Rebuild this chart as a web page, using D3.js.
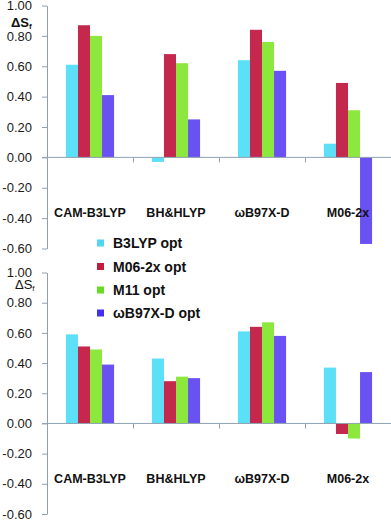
<!DOCTYPE html>
<html>
<head>
<meta charset="utf-8">
<script src="https://cdn.jsdelivr.net/npm/d3@7"></script>
<style>
html,body{margin:0;padding:0;background:#fff;}
svg{display:block;font-family:"Liberation Sans",Arial,sans-serif;}
</style>
</head>
<body>
<svg id="chart" width="391" height="521"></svg>
<script>
const categories = ["CAM-B3LYP", "BH&HLYP", "ωB97X-D", "M06-2x"];
const seriesNames = ["B3LYP opt", "M06-2x opt", "M11 opt", "ωB97X-D opt"];
const yTicks = [1.0, 0.8, 0.6, 0.4, 0.2, 0.0, -0.2, -0.4, -0.6];
// top panel values (per series, per category)
const topB3LYP = [0.61, -0.03, 0.64, 0.09];
const topM062x = [0.87, 0.68, 0.84, 0.49];
const topM11 = [0.80, 0.62, 0.76, 0.31];
const topWB97XD = [0.41, 0.25, 0.57, -0.57];
// bottom panel values
const botB3LYP = [0.59, 0.43, 0.61, 0.37];
const botM062x = [0.51, 0.28, 0.64, -0.07];
const botM11 = [0.49, 0.31, 0.67, -0.10];
const botWB97XD = [0.39, 0.30, 0.58, 0.34];

const barColors = ["#5ce0f8", "#c4284d", "#8ce83c", "#6a52f2"];
const legendColors = ["#4fd6f6", "#c01c3c", "#66dd22", "#4630f0"];
const axisColor = "#8fa1b0";

const svg = d3.select("#chart");

function panel(values, yTop, yBottom, lbl) {
  const g = svg.append("g");
  const y = d3.scaleLinear().domain([-0.6, 1.0]).range([yBottom, yTop]);
  const x0 = d3.scaleBand().domain(categories).range([47, 391])
    .paddingInner(0.44).paddingOuter(0.22);
  const x1 = d3.scaleBand().domain(seriesNames).range([0, x0.bandwidth()]);

  // bars
  categories.forEach((c, ci) => {
    seriesNames.forEach((s, si) => {
      const v = values[si][ci];
      g.append("rect")
        .attr("x", x0(c) + x1(s))
        .attr("width", x1.bandwidth())
        .attr("y", y(Math.max(0, v)))
        .attr("height", Math.abs(y(v) - y(0)))
        .attr("fill", barColors[si]);
    });
  });

  // y axis
  const ya = d3.axisLeft(y).tickValues(yTicks).tickSizeInner(5).tickSizeOuter(0)
    .tickPadding(10).tickFormat(d => d.toFixed(2));
  const yg = g.append("g").attr("transform", "translate(47,0)").call(ya);
  yg.select(".domain").attr("stroke", axisColor);
  yg.selectAll(".tick line").attr("stroke", axisColor);
  yg.selectAll(".tick text").attr("fill", "#1a1a1a").attr("font-size", 13)
    .attr("font-family", "'Liberation Sans',Arial,sans-serif");

  // x axis at zero
  const y0 = y(0);
  g.append("line").attr("x1", 42).attr("x2", 391).attr("y1", y0).attr("y2", y0)
    .attr("stroke", axisColor).attr("stroke-width", 1);
  const step = x0.step();
  for (let i = 1; i <= categories.length; i++) {
    const bx = Math.round(x0.range()[0] + i * step) + 0.5;
    g.append("line").attr("x1", bx).attr("x2", bx).attr("y1", y0).attr("y2", y0 + 5)
      .attr("stroke", axisColor);
  }
  // category labels
  categories.forEach(c => {
    g.append("text").attr("x", x0(c) + x0.bandwidth() / 2).attr("y", y0 + 60)
      .attr("text-anchor", "middle").attr("font-size", 12.5).attr("font-weight", "bold")
      .attr("fill", "#111").text(c);
  });

  // ΔSf label
  const t = g.append("text").attr("x", lbl.x).attr("y", yTop + lbl.dy)
    .attr("font-size", lbl.size).attr("font-weight", lbl.weight).attr("fill", "#111");
  t.append("tspan").text("ΔS");
  t.append("tspan").attr("font-size", 8).attr("dy", 2).text("f");
}

panel([topB3LYP, topM062x, topM11, topWB97XD], 5.5, 248.5,
  {x: 11, dy: 21, size: 13, weight: "bold"});
panel([botB3LYP, botM062x, botM11, botWB97XD], 272.5, 514,
  {x: 15, dy: 16.5, size: 13, weight: "normal"});

// legend
const lg = svg.append("g");
const legendY = [243, 266.5, 290, 313];
seriesNames.forEach((s, i) => {
  lg.append("rect").attr("x", 97).attr("y", legendY[i] - 3.5).attr("width", 7).attr("height", 7)
    .attr("fill", legendColors[i]);
  lg.append("text").attr("x", 113).attr("y", legendY[i] + 5).attr("font-size", 14)
    .attr("font-weight", "bold").attr("fill", "#111").text(s);
});
</script>
</body>
</html>
